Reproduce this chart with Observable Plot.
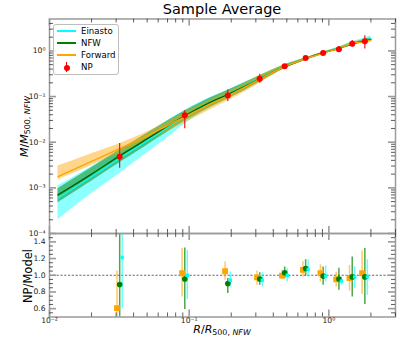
<!DOCTYPE html>
<html><head><meta charset="utf-8">
<script src="https://cdn.jsdelivr.net/npm/d3@7"></script>
<script src="https://cdn.jsdelivr.net/npm/@observablehq/plot@0.6"></script>
<style>
body{margin:0;background:#fff;font-family:"DejaVu Sans",sans-serif;}
#wrap{position:relative;width:415px;height:360px;overflow:hidden;background:#fff;}
#wrap svg{position:absolute;left:0;overflow:visible;}
.lbl{position:absolute;white-space:nowrap;color:#000;}
.lbl sub{font-size:0.72em;vertical-align:baseline;position:relative;top:0.3em;}
#legend{position:absolute;left:53px;top:24px;width:64px;height:49px;border:1px solid #bdbdbd;border-radius:3px;background:rgba(255,255,255,0.85);font-size:8.6px;}
.le{position:absolute;left:0;height:12px;width:64px;}
.le .sw{position:absolute;left:3px;width:19px;top:5px;height:2px;}
.le .tx{position:absolute;left:27px;top:0;line-height:12px;}
</style></head><body><div id="wrap"></div>
<script>
// ---- model curves (top panel) ----
const gridR  = [0.0115, 0.02, 0.032, 0.05, 0.07, 0.093, 0.13, 0.19, 0.25, 0.32, 0.48, 0.68, 0.91, 1.18, 1.47, 1.81, 2.0];
const nfwMid = [7.0e-4, 2.0e-3, 5.1e-3, 0.0118, 0.0225, 0.038, 0.066, 0.112, 0.168, 0.245, 0.45, 0.67, 0.91, 1.13, 1.42, 1.66, 1.78];
const nfwLo  = [4.7e-4, 1.4e-3, 3.6e-3, 8.6e-3, 0.0168, 0.029, 0.051, 0.089, 0.136, 0.205, 0.40, 0.63, 0.88, 1.09, 1.35, 1.55, 1.64];
const nfwHi  = [9.5e-4, 2.75e-3, 6.8e-3, 0.0155, 0.029, 0.048, 0.082, 0.137, 0.200, 0.285, 0.49, 0.70, 0.94, 1.18, 1.50, 1.78, 1.93];
const einMid = [6.0e-4, 1.75e-3, 4.5e-3, 0.0108, 0.021, 0.037, 0.066, 0.113, 0.170, 0.25, 0.455, 0.66, 0.91, 1.16, 1.47, 1.70, 1.85];
const einLo  = [2.0e-4, 7.5e-4, 2.1e-3, 5.8e-3, 0.0125, 0.025, 0.049, 0.090, 0.138, 0.21, 0.41, 0.62, 0.87, 1.10, 1.38, 1.55, 1.62];
const einHi  = [1.1e-3, 2.9e-3, 6.9e-3, 0.0158, 0.030, 0.050, 0.085, 0.14, 0.205, 0.29, 0.50, 0.70, 0.95, 1.22, 1.58, 1.95, 2.12];
const fwdMid = [1.77e-3, 3.8e-3, 7.3e-3, 0.0138, 0.0232, 0.036, 0.060, 0.104, 0.160, 0.24, 0.45, 0.67, 0.89, 1.14, 1.45, 1.60, 1.72];
const fwdLo  = [1.5e-3, 3.1e-3, 5.7e-3, 0.0105, 0.0172, 0.0265, 0.045, 0.081, 0.126, 0.195, 0.41, 0.63, 0.85, 1.09, 1.38, 1.45, 1.55];
const fwdHi  = [3.0e-3, 5.6e-3, 9.4e-3, 0.0168, 0.0282, 0.044, 0.074, 0.127, 0.193, 0.285, 0.49, 0.70, 0.93, 1.20, 1.57, 1.75, 1.88];

// ---- non-parametric points ----
const npR  = [0.0318, 0.093, 0.189, 0.32, 0.483, 0.682, 0.91, 1.18, 1.47, 1.81];
const npV  = [0.0048, 0.039, 0.105, 0.244, 0.46, 0.70, 0.90, 1.09, 1.44, 1.62];
const npLo = [0.0027, 0.0197, 0.078, 0.195, 0.425, 0.67, 0.86, 0.95, 1.22, 1.10];
const npHi = [0.0094, 0.049, 0.14, 0.31, 0.50, 0.73, 0.94, 1.25, 1.70, 2.15];

// ---- ratios NP/Model (bottom panel) ----
const fwdRat = [0.607, 1.024, 1.048, 0.975, 0.995, 1.064, 1.024, 0.95, 0.967, 1.024];
const fwdRLo = [0.40, 0.74, 0.94, 0.88, 0.95, 0.98, 0.92, 0.86, 0.81, 0.77];
const fwdRHi = [1.05, 1.32, 1.16, 1.05, 1.064, 1.165, 1.125, 1.036, 1.116, 1.29];
const nfwRat = [0.89, 0.955, 0.90, 0.955, 1.03, 1.08, 0.99, 0.955, 0.98, 0.98];
const nfwRLo = [0.30, 0.59, 0.78, 0.88, 0.96, 0.99, 0.88, 0.82, 0.74, 0.65];
const nfwRHi = [1.70, 1.327, 0.96, 1.03, 1.10, 1.185, 1.10, 1.085, 1.22, 1.32];
const einRat = [1.213, 1.0, 0.94, 0.94, 1.0, 1.07, 0.99, 0.93, 0.98, 0.98];
const einRLo = [0.60, 0.71, 0.86, 0.86, 0.92, 0.975, 0.92, 0.88, 0.84, 0.76];
const einRHi = [1.70, 1.295, 1.04, 1.03, 1.077, 1.185, 1.11, 0.98, 1.10, 1.185];

// ---- ticks ----
const xMajor = [0.01, 0.1, 1];
const xMinor = [0.02,0.03,0.04,0.05,0.06,0.07,0.08,0.09,0.2,0.3,0.4,0.5,0.6,0.7,0.8,0.9,2,3];
const yMajorTop = [1e-4, 1e-3, 1e-2, 1e-1, 1];
const yMinorTop = [1e-4,1e-3,1e-2,1e-1,1].flatMap(b => [2,3,4,5,6,7,8,9].map(k => k*b)).filter(v => v < 5);
const yMajorBot = [0.6, 0.8, 1.0, 1.2, 1.4];
const yMinorBot = [0.55,0.65,0.7,0.75,0.85,0.9,0.95,1.05,1.1,1.15,1.25,1.3,1.35,1.45];

const sup = {"-":"⁻","0":"⁰","1":"¹","2":"²","3":"³","4":"⁴"};
const powFmt = v => "10" + String(Math.round(Math.log10(v))).split("").map(c => sup[c]).join("");

const rows = (r, a, b, c) => r.map((x, i) => ({r: x, mid: a[i], lo: b[i], hi: c[i]}));
const ein = rows(gridR, einMid, einLo, einHi);
const nfw = rows(gridR, nfwMid, nfwLo, nfwHi);
const fwd = rows(gridR, fwdMid, fwdLo, fwdHi);
const np  = rows(npR, npV, npLo, npHi);
const fwdR = rows(npR, fwdRat, fwdRLo, fwdRHi);
const nfwR = rows(npR, nfwRat, nfwRLo, nfwRHi);
const einR = rows(npR, einRat, einRLo, einRHi);

const W = 415, ML = 49, MR = 20;
const FW = W - ML - MR;
const topH = 233, topMT = 18.5;
const TH = topH - topMT;
const botH = 127, botMB = 43.5;
const BH = botH - botMB;
const gray = "#9a9a9a", dark = "#333";

function tickMarks(H) {
  return [
    Plot.tickX(xMajor, {x: d => d, stroke: gray, strokeWidth: 1.6, insetTop: H - 7}),
    Plot.tickX(xMinor, {x: d => d, stroke: dark, strokeWidth: 0.8, insetTop: H - 4}),
    Plot.tickX(xMajor, {x: d => d, stroke: gray, strokeWidth: 1.6, insetBottom: H - 7}),
    Plot.tickX(xMinor, {x: d => d, stroke: dark, strokeWidth: 0.8, insetBottom: H - 4})
  ];
}
function yTickMarks(maj, min) {
  return [
    Plot.tickY(maj, {y: d => d, stroke: gray, strokeWidth: 1.6, insetRight: FW - 7}),
    Plot.tickY(min, {y: d => d, stroke: dark, strokeWidth: 0.8, insetRight: FW - 4}),
    Plot.tickY(maj, {y: d => d, stroke: gray, strokeWidth: 1.6, insetLeft: FW - 7}),
    Plot.tickY(min, {y: d => d, stroke: dark, strokeWidth: 0.8, insetLeft: FW - 4})
  ];
}

const style = {fontFamily: "DejaVu Sans", fontSize: "7.6px", background: "transparent", overflow: "visible"};

const topPlot = Plot.plot({
  width: W, height: topH, marginLeft: ML, marginRight: MR, marginTop: topMT, marginBottom: 0,
  x: {type: "log", domain: [0.01, 3], axis: null},
  y: {type: "log", domain: [1e-4, 5], axis: null},
  style,
  marks: [
    Plot.areaY(ein, {x: "r", y1: "lo", y2: "hi", fill: "#00ffff", fillOpacity: 0.45, curve: "monotone-x"}),
    Plot.areaY(nfw, {x: "r", y1: "lo", y2: "hi", fill: "#008000", fillOpacity: 0.5, curve: "monotone-x"}),
    Plot.areaY(fwd, {x: "r", y1: "lo", y2: "hi", fill: "#ffa500", fillOpacity: 0.45, curve: "monotone-x"}),
    Plot.lineY(ein, {x: "r", y: "mid", stroke: "#00ffff", strokeWidth: 1.4, curve: "monotone-x"}),
    Plot.lineY(nfw, {x: "r", y: "mid", stroke: "#006400", strokeWidth: 1.4, curve: "monotone-x"}),
    Plot.lineY(fwd, {x: "r", y: "mid", stroke: "#ffa500", strokeWidth: 1.4, curve: "monotone-x"}),
    Plot.ruleX(np, {x: "r", y1: "lo", y2: "hi", stroke: "red", strokeWidth: 1.1}),
    Plot.dot(np, {x: "r", y: "mid", r: 3, fill: "red"}),
    Plot.frame({stroke: gray, strokeWidth: 1.5}),
    ...tickMarks(TH),
    ...yTickMarks(yMajorTop, yMinorTop),
    Plot.text(yMajorTop, {y: d => d, text: d => powFmt(d), frameAnchor: "left", dx: -4, textAnchor: "end", fill: "#222"})
  ]
});
topPlot.style.top = "0px";

const botPlot = Plot.plot({
  width: W, height: botH, marginLeft: ML, marginRight: MR, marginTop: 0, marginBottom: botMB,
  x: {type: "log", domain: [0.01, 3], axis: null},
  y: {domain: [0.5, 1.5], axis: null},
  style,
  marks: [
    Plot.ruleY([1], {stroke: "#444", strokeWidth: 0.8, strokeDasharray: "2.2,1.6"}),
    Plot.ruleX(fwdR, {x: "r", y1: "lo", y2: "hi", stroke: "#ffa500", strokeOpacity: 0.6, strokeWidth: 1.5, dx: -2.7, clip: true}),
    Plot.ruleX(nfwR, {x: "r", y1: "lo", y2: "hi", stroke: "#008000", strokeOpacity: 0.7, strokeWidth: 1.5, clip: true}),
    Plot.ruleX(einR, {x: "r", y1: "lo", y2: "hi", stroke: "#00ffff", strokeOpacity: 0.6, strokeWidth: 1.5, dx: 2.5, clip: true}),
    Plot.dot(fwdR, {x: "r", y: "mid", symbol: "square", r: 3.3, fill: "#ffa500", dx: -2.7, clip: true}),
    Plot.dot(nfwR, {x: "r", y: "mid", r: 2.8, fill: "#008000", clip: true}),
    Plot.dot(einR, {x: "r", y: "mid", symbol: "square", r: 1.9, fill: "#00ffff", dx: 2.5, clip: true}),
    Plot.frame({stroke: gray, strokeWidth: 1.5}),
    ...tickMarks(BH),
    ...yTickMarks(yMajorBot, yMinorBot),
    Plot.text(yMajorBot, {y: d => d, text: d => d.toFixed(1), frameAnchor: "left", dx: -4, textAnchor: "end", fill: "#222"}),
    Plot.text(xMajor, {x: d => d, text: d => powFmt(d), frameAnchor: "bottom", dy: 6, fill: "#222"})
  ]
});
botPlot.style.top = topH + "px";

const wrap = document.getElementById("wrap");
wrap.appendChild(topPlot);
wrap.appendChild(botPlot);

function addLabel(html, css) {
  const d = document.createElement("div");
  d.className = "lbl";
  d.innerHTML = html;
  Object.assign(d.style, css);
  wrap.appendChild(d);
  return d;
}
const cx = ML + FW / 2;
addLabel("Sample Average", {left: ML + "px", width: FW + "px", textAlign: "center", top: "0px", fontSize: "14.5px", lineHeight: "18px"});
addLabel("<i>R</i>/<i>R</i><sub>500, <i>NFW</i></sub>", {left: (cx - 60) + "px", width: "120px", textAlign: "center", top: "323px", fontSize: "11px"});
addLabel("<i>M</i>/<i>M</i><sub>500, <i>NFW</i></sub>", {left: (25 - 60) + "px", width: "120px", textAlign: "center", top: (126 - 7) + "px", fontSize: "11px", lineHeight: "14px", transform: "rotate(-90deg)"});
addLabel("NP/Model", {left: (28 - 60) + "px", width: "120px", textAlign: "center", top: (276 - 8) + "px", fontSize: "11.5px", lineHeight: "16px", transform: "rotate(-90deg)"});

// legend
const legendItems = [
  {name: "Einasto", color: "#00ffff", kind: "line"},
  {name: "NFW", color: "#008000", kind: "line"},
  {name: "Forward", color: "#ffa500", kind: "line"},
  {name: "NP", color: "red", kind: "point"}
];
const lg = document.createElement("div");
lg.id = "legend";
legendItems.forEach((it, i) => {
  const e = document.createElement("div");
  e.className = "le";
  e.style.top = (i * 12.2 - 0.5) + "px";
  let sw;
  if (it.kind === "line") {
    sw = `<div class="sw" style="background:${it.color}"></div>`;
  } else {
    sw = `<div style="position:absolute;left:12px;top:1px;width:1px;height:10px;background:${it.color}"></div>` +
         `<div style="position:absolute;left:9.5px;top:3.5px;width:6px;height:6px;border-radius:3px;background:${it.color}"></div>`;
  }
  e.innerHTML = sw + `<div class="tx">${it.name}</div>`;
  lg.appendChild(e);
});
wrap.appendChild(lg);
</script>
</body></html>
